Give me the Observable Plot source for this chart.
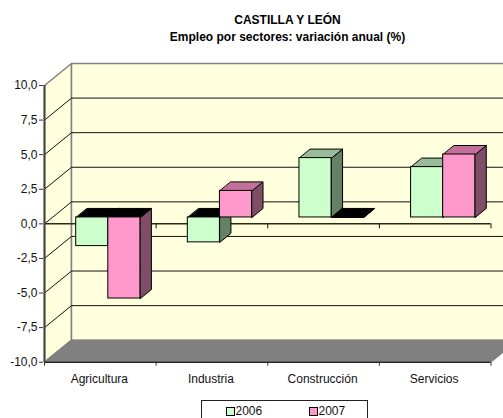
<!DOCTYPE html>
<html>
<head>
<meta charset="utf-8">
<script src="https://cdn.jsdelivr.net/npm/d3@7"></script>
<script src="https://cdn.jsdelivr.net/npm/@observablehq/plot@0.6"></script>
<style>
html,body{margin:0;padding:0;background:#fff;overflow:hidden;width:503px;height:418px;font-family:"Liberation Sans",Arial,sans-serif;}
#title{height:60px;box-sizing:border-box;padding-top:12px;text-align:center;font-weight:bold;font-size:12px;line-height:17px;color:#000;width:575px;}
#chart svg{display:block;}
#legend{position:absolute;left:201px;top:400px;width:167px;height:30px;box-sizing:border-box;border:1px solid #222;background:#fff;font-size:12px;color:#111;}
#legend span.k{position:absolute;top:6px;width:7px;height:7px;border:1px solid #000;}
#legend span.t{position:absolute;top:3px;line-height:14px;}
</style>
</head>
<body>
<div id="title">CASTILLA Y LEÓN<br>Empleo por sectores: variación anual (%)</div>
<div id="chart"></div>
<div id="legend"></div>
<script>
const categories = ["Agricultura", "Industria", "Construcción", "Servicios"];
const years = ["2006", "2007"];
const values2006 = [-2.07, -1.8, 4.29, 3.64];
const values2007 = [-5.86, 1.92, 0, 4.55];
const yTicks = [-10, -7.5, -5, -2.5, 0, 2.5, 5, 7.5, 10];
const frontColors = ["#ccffcc", "#ff99cc"];
const sideColors = ["#668066", "#804d66"];
const topColors = ["#99bb99", "#c07099"];

const pxX = 111.625, pxY = 13.835;
const wallDx = 27 / pxX, wallDy = 22 / pxY;
const barDx = 11 / pxX, barDy = 9 / pxY;
const barStart = 31.7 / pxX, barW = 32.1 / pxX, baseY = 6.4 / pxY;
const nCat = categories.length;

const poly = (id, pts) => pts.map(([x, y]) => ({id, x, y}));
const faceMark = (faces, fill, stroke, extra = {}) =>
  Plot.line(faces, {x: "x", y: "y", z: "id", fill, stroke, strokeWidth: 1, curve: "linear-closed", ...extra});

const leftWall = poly("l", [[0, -10], [wallDx, -10 + wallDy], [wallDx, 10 + wallDy], [0, 10]]);
const backWall = poly("b", [[wallDx, -10 + wallDy], [nCat + wallDx, -10 + wallDy], [nCat + wallDx, 10 + wallDy], [wallDx, 10 + wallDy]]);
const floor = poly("f", [[0, -10], [nCat, -10], [nCat + wallDx, -10 + wallDy], [wallDx, -10 + wallDy]]);
const grid = yTicks.slice(1, -1).flatMap(t => [[0, t], [wallDx, t + wallDy], [nCat + wallDx, t + wallDy]].map(([x, y]) => ({t, x, y})));

const seriesVals = [values2006, values2007];
const sides = [[], []], tops = [[], []], fronts = [];
seriesVals.forEach((vals, s) => vals.forEach((v, c) => {
  const x0 = c + barStart + s * barW, x1 = x0 + barW;
  const lo = Math.min(v, 0) + baseY, hi = Math.max(v, 0) + baseY;
  const id = s + "-" + c;
  sides[s].push(...poly(id, [[x1, lo], [x1 + barDx, lo + barDy], [x1 + barDx, hi + barDy], [x1, hi]]));
  tops[s].push({id, v, pts: poly(id, [[x0, hi], [x1, hi], [x1 + barDx, hi + barDy], [x0 + barDx, hi + barDy]])});
  if (v !== 0) fronts.push({x1: x0, x2: x1, y1: lo, y2: hi, s});
}));

const topMarks = [0, 1].flatMap(s => [
  faceMark(tops[s].filter(d => d.v > 0).flatMap(d => d.pts), topColors[s], "#000"),
  faceMark(tops[s].filter(d => d.v <= 0).flatMap(d => d.pts), "#000", "#000")
]);

const plot = Plot.plot({
  width: 503,
  height: 340,
  marginLeft: 44, marginRight: 0, marginTop: 0, marginBottom: 38.3,
  x: {domain: [0, 459 / pxX], range: [44, 503]},
  y: {domain: [-10, 10], range: [301.7, 25]},
  style: {fontFamily: "'Liberation Sans', Arial, sans-serif", fontSize: "12px", background: "transparent", color: "#111"},
  marks: [
    faceMark(leftWall, "#ffffdd", "#808080", {strokeWidth: 1.5}),
    faceMark(backWall, "#ffffdd", "#808080", {strokeWidth: 1.5, clip: true}),
    Plot.line(grid, {x: "x", y: "y", z: "t", stroke: "#111", strokeWidth: 1, clip: true}),
    faceMark(floor, "#808080", "#808080", {clip: true}),
    Plot.ruleY([0], {x1: 0, x2: nCat, stroke: "#2a2a1a", strokeWidth: 1.5}),
    Plot.ruleX([1, 2, 3, 4], {y1: 0, y2: -0.36, stroke: "#111", strokeWidth: 1}),
    faceMark(sides[0], sideColors[0], "#000"),
    faceMark(sides[1], sideColors[1], "#000"),
    ...topMarks,
    Plot.rect(fronts.filter(d => d.s === 0), {x1: "x1", x2: "x2", y1: "y1", y2: "y2", fill: frontColors[0], stroke: "#000", inset: 0}),
    Plot.rect(fronts.filter(d => d.s === 1), {x1: "x1", x2: "x2", y1: "y1", y2: "y2", fill: frontColors[1], stroke: "#000", inset: 0}),
    Plot.ruleY([-10], {x1: 0, x2: nCat, stroke: "#222", strokeWidth: 1.5}),
    Plot.ruleX([0], {y1: -10, y2: 10, stroke: "#444", strokeWidth: 2}),
    Plot.axisY({ticks: yTicks, tickSize: 4, tickPadding: 2, dx: -1, tickFormat: d => d.toFixed(1).replace(".", ","), label: null, stroke: "#333", fill: "#111"}),
    Plot.axisX({ticks: [0, 1, 2, 3, 4], tickSize: 4, tickFormat: () => "", label: null, stroke: "#333"}),
    Plot.axisX({ticks: categories.map((_, i) => i + 0.5), tickSize: 0, tickPadding: 12, dx: -1, tickFormat: d => categories[Math.floor(d)], label: null, fill: "#111"})
  ]
});
document.getElementById("chart").append(plot);

const legend = document.getElementById("legend");
const legendLeft = [24, 107];
years.forEach((y, i) => {
  legend.insertAdjacentHTML("beforeend",
    `<span class="k" style="left:${legendLeft[i]}px;background:${frontColors[i]}"></span><span class="t" style="left:${legendLeft[i] + 9.5}px">${y}</span>`);
});
</script>
</body>
</html>
